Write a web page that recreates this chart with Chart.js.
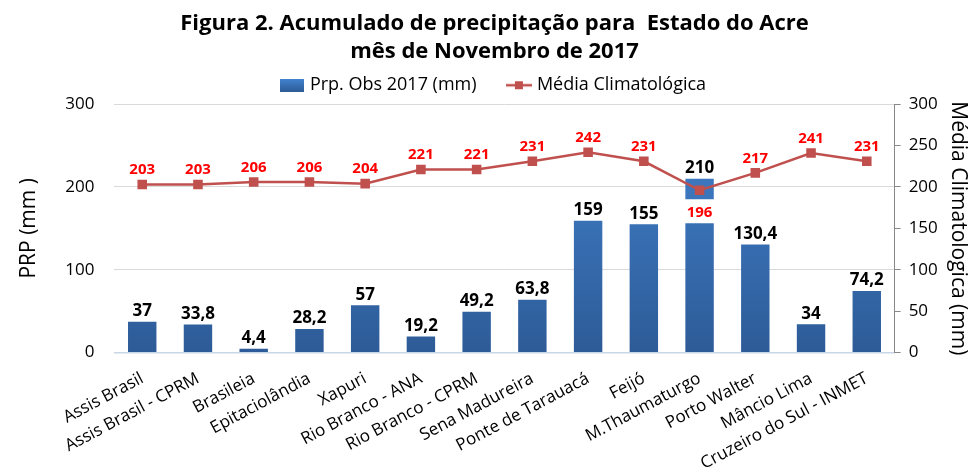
<!DOCTYPE html>
<html>
<head>
<meta charset="utf-8">
<script src="https://cdn.jsdelivr.net/npm/chart.js@4.4.0/dist/chart.umd.min.js"></script>
<style>
  html, body { margin: 0; padding: 0; background: #fff; }
  #wrap { width: 977px; height: 474px; }
</style>
</head>
<body>
<div id="wrap"><canvas id="chart"></canvas></div>
<script>
// stations
const categories = ['Assis Brasil', 'Assis Brasil - CPRM', 'Brasileia', 'Epitaciolândia', 'Xapuri',
  'Rio Branco - ANA', 'Rio Branco - CPRM', 'Sena Madureira', 'Ponte de Tarauacá', 'Feijó',
  'M.Thaumaturgo', 'Porto Walter', 'Mâncio Lima', 'Cruzeiro do Sul - INMET'];
const obs2017 = [37, 33.8, 4.4, 28.2, 57, 19.2, 49.2, 63.8, 159, 155, 210, 130.4, 34, 74.2];
const mediaClim = [203, 203, 206, 206, 204, 221, 221, 231, 242, 231, 196, 217, 241, 231];
const leftTicks = [0, 100, 200, 300];
const rightTicks = [0, 50, 100, 150, 200, 250, 300];

const FONT = "'Open Sans', sans-serif";
const LINE_COLOR = '#c0504d';

function fmt(v) { return String(v).replace('.', ','); }

function barGradient(ctx, area) {
  const g = ctx.createLinearGradient(0, area.top, 0, area.bottom);
  g.addColorStop(0, '#4384d0');
  g.addColorStop(1, '#2d5b97');
  return g;
}

// little legend icons
function barIcon() {
  const c = document.createElement('canvas');
  c.width = 24; c.height = 13;
  const x = c.getContext('2d');
  const g = x.createLinearGradient(0, 0, 0, 13);
  g.addColorStop(0, '#4384d0'); g.addColorStop(1, '#2d5b97');
  x.fillStyle = g; x.fillRect(0, 0, 24, 13);
  return c;
}
function lineIcon() {
  const c = document.createElement('canvas');
  c.width = 26; c.height = 10;
  const x = c.getContext('2d');
  x.strokeStyle = LINE_COLOR; x.lineWidth = 2.5;
  x.beginPath(); x.moveTo(0, 5); x.lineTo(26, 5); x.stroke();
  x.fillStyle = LINE_COLOR; x.fillRect(9, 1, 8, 8);
  return c;
}

const valueLabels = {
  id: 'valueLabels',
  afterDatasetsDraw(chart) {
    const ctx = chart.ctx;
    const barMeta = chart.getDatasetMeta(0);
    const lineMeta = chart.getDatasetMeta(1);
    ctx.save();
    ctx.textAlign = 'center';
    ctx.textBaseline = 'bottom';
    ctx.font = 'bold 17px ' + FONT;
    ctx.fillStyle = '#000';
    barMeta.data.forEach((el, i) => {
      ctx.fillText(fmt(obs2017[i]), el.x, el.y - 2);
    });
    ctx.font = 'bold 15px ' + FONT;
    lineMeta.data.forEach((pt, i) => {
      const txt = fmt(mediaClim[i]);
      if (mediaClim[i] < obs2017[i]) {
        // point sits inside the bar: label below on white
        const w = ctx.measureText(txt).width + 10;
        ctx.fillStyle = '#fff';
        ctx.fillRect(pt.x - w / 2, pt.y + 9, w, 24);
        ctx.fillStyle = '#ff0000';
        ctx.textBaseline = 'middle';
        ctx.fillText(txt, pt.x, pt.y + 22);
        ctx.textBaseline = 'bottom';
      } else {
        ctx.fillStyle = '#ff0000';
        ctx.fillText(txt, pt.x, pt.y - 7);
      }
    });
    ctx.restore();
  }
};

new Chart(document.getElementById('chart'), {
  data: {
    labels: categories,
    datasets: [
      {
        type: 'bar',
        label: 'Prp. Obs 2017 (mm)',
        data: obs2017,
        yAxisID: 'y',
        order: 2,
        backgroundColor: (c) => c.chart.chartArea ? barGradient(c.chart.ctx, c.chart.chartArea) : '#3a70b5',
        barPercentage: 0.85,
        categoryPercentage: 0.6,
      },
      {
        type: 'line',
        label: 'Média Climatológica',
        data: mediaClim,
        yAxisID: 'y1',
        order: 1,
        borderColor: LINE_COLOR,
        backgroundColor: LINE_COLOR,
        borderWidth: 2.5,
        pointStyle: 'rect',
        pointRadius: 5,
        pointBackgroundColor: LINE_COLOR,
        pointBorderColor: LINE_COLOR,
        tension: 0,
      }
    ]
  },
  options: {
    responsive: true,
    maintainAspectRatio: false,
    animation: false,
    layout: { padding: { left: 12, right: 0, top: 9, bottom: -8 } },
    plugins: {
      title: {
        display: true,
        text: ['Figura 2. Acumulado de precipitação para  Estado do Acre', 'mês de Novembro de 2017'],
        color: '#000',
        font: { family: FONT, size: 22, weight: 'bold', lineHeight: 1.3 },
        padding: { top: 0, bottom: 0 },
      },
      legend: {
        display: true,
        position: 'top',
        labels: {
          color: '#000',
          font: { family: FONT, size: 18 },
          usePointStyle: true,
          padding: 10,
          boxWidth: 24,
          generateLabels() {
            return [
              { text: 'Prp. Obs 2017 (mm)     ', pointStyle: barIcon(), datasetIndex: 0, lineWidth: 0, strokeStyle: 'transparent', fillStyle: '#3a70b5' },
              { text: 'Média Climatológica', pointStyle: lineIcon(), datasetIndex: 1, lineWidth: 0, strokeStyle: 'transparent', fillStyle: LINE_COLOR },
            ];
          }
        }
      },
      tooltip: { enabled: false },
    },
    scales: {
      x: {
        grid: { display: false },
        border: { display: true, color: '#c9d6e6', width: 1.5 },
        ticks: {
          color: '#000',
          font: { family: FONT, size: 17 },
          maxRotation: 28,
          minRotation: 28,
          autoSkip: false,
          padding: 8,
        }
      },
      y: {
        position: 'left',
        min: 0, max: 300,
        afterBuildTicks: (ax) => { ax.ticks = leftTicks.map(v => ({ value: v })); },
        grid: { color: '#d9d9d9', drawTicks: false },
        border: { display: false },
        ticks: { color: '#000', font: { family: FONT, size: 17 }, padding: 20 },
        title: { display: true, text: 'PRP (mm )', color: '#000', font: { family: FONT, size: 21 }, padding: { bottom: 4 } },
      },
      y1: {
        position: 'right',
        min: 0, max: 300,
        afterBuildTicks: (ax) => { ax.ticks = rightTicks.map(v => ({ value: v })); },
        grid: { drawOnChartArea: false, color: '#888', tickLength: 6 },
        border: { display: true, color: '#888' },
        ticks: { color: '#000', font: { family: FONT, size: 17 }, padding: 8 },
        title: { display: true, text: 'Média Climatologica (mm)', color: '#000', font: { family: FONT, size: 21 }, padding: { top: 6, bottom: 0 } },
      }
    }
  },
  plugins: [valueLabels]
});
</script>
</body>
</html>
